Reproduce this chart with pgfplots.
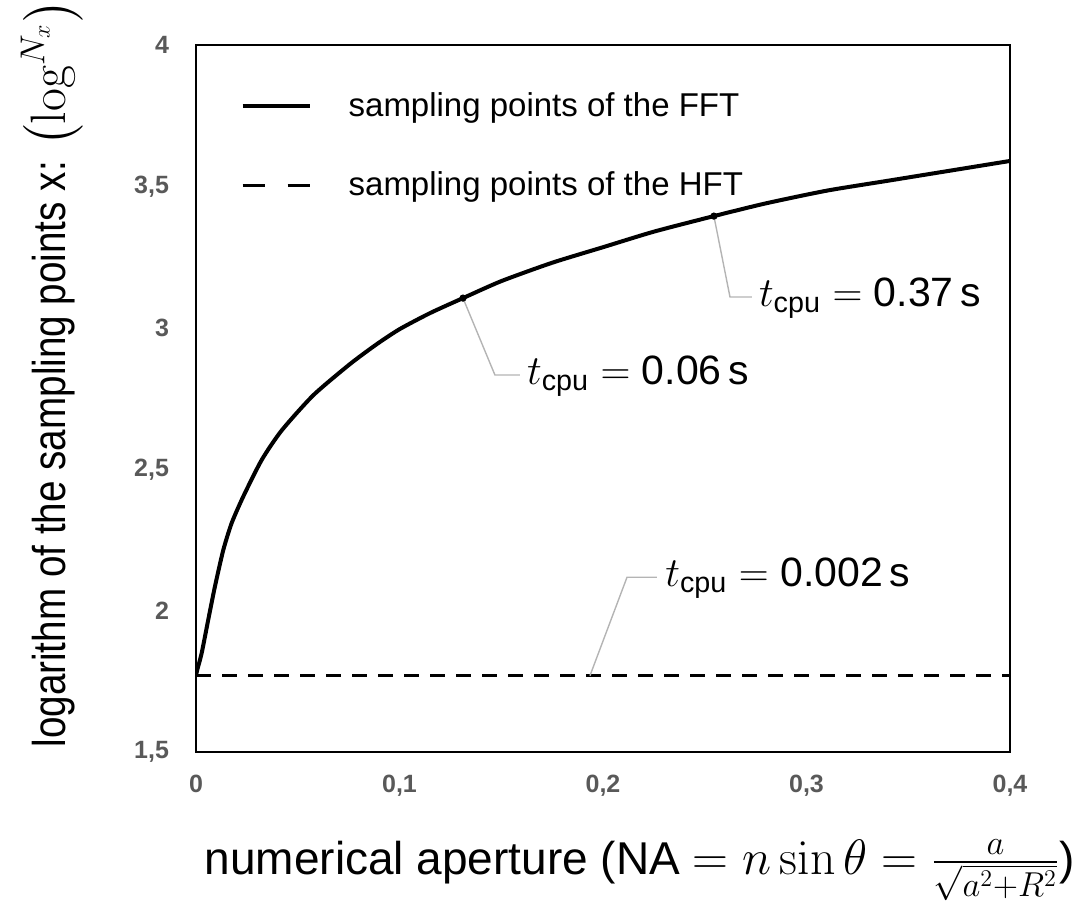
\documentclass[border=0pt]{standalone}
\usepackage{amsmath}
\usepackage{pgfplots}
\pgfplotsset{compat=1.18}
\usepackage[no-math]{fontspec}
\setmainfont{Liberation Sans}
\newfontfamily\condfont{Liberation Sans}[FakeStretch=0.84]
\definecolor{tickgray}{HTML}{595959}
\definecolor{callgray}{HTML}{B4B4B4}
\begin{document}
\begin{tikzpicture}
\begin{axis}[
  scale only axis,
  width=407pt, height=353.5pt,
  xmin=0, xmax=0.4, ymin=1.5, ymax=4,
  axis line style={line width=1pt},
  xtick={0,0.1,0.2,0.3,0.4},
  xticklabels={0,{0,1},{0,2},{0,3},{0,4}},
  ytick={1.5,2,2.5,3,3.5,4},
  yticklabels={{1,5},2,{2,5},3,{3,5},4},
  major tick length=0pt,
  tick label style={font=\bfseries\fontsize{12.5}{14}\selectfont, text=tickgray},
  xticklabel style={yshift=-8pt},
  yticklabel style={xshift=-10pt},
  xlabel={numerical aperture (NA $= n\sin\theta = \frac{a}{\sqrt{a^2+R^2}}$)},
  xlabel style={font=\fontsize{23}{26}\selectfont, at={(rel axis cs:0.545,0)}, anchor=center, yshift=-59pt},
  ylabel={logarithm of the sampling points x: $\left(\log^{N_x}\right)$},
  ylabel style={font=\condfont\fontsize{23}{26}\selectfont, at={(rel axis cs:-0.177,0.535)}, anchor=center},
  legend style={draw=none, fill=none, at={(rel axis cs:0.047,0.944)}, anchor=north west,
    font=\fontsize{16.5}{19}\selectfont, row sep=22pt,
    /tikz/every odd column/.append style={column sep=16.5pt}},
  legend cell align=left,
  legend image code/.code={\draw[#1] (0pt,0pt) -- (33.5pt,0pt);},
]
\addlegendimage{black, line width=2pt}
\addlegendentry{sampling points of the FFT}
\addlegendimage{black, line width=1.5pt, dash pattern=on 11pt off 11.5pt}
\addlegendentry{sampling points of the HFT}
\addplot[black, line width=2pt, smooth, tension=0.4, forget plot] coordinates {
(0,1.77) (0.0006,1.79) (0.0028,1.85) (0.006,1.967) (0.0093,2.085) (0.0134,2.214)
(0.0175,2.309) (0.0232,2.403) (0.0323,2.533) (0.0421,2.637) (0.0577,2.762)
(0.0757,2.872) (0.0888,2.942) (0.1,2.995) (0.115,3.052) (0.1312,3.105) (0.15,3.165)
(0.175,3.23) (0.2,3.285) (0.225,3.34) (0.2545,3.395) (0.28,3.44) (0.31,3.485)
(0.34,3.52) (0.37,3.555) (0.4,3.59)};
\addplot[black, line width=1.5pt, dash pattern=on 7.5pt off 5.5pt, forget plot] coordinates {(0,1.77) (0.4,1.77)};
\addplot[only marks, black, mark=*, mark size=1.6pt, forget plot] coordinates {(0.1312,3.105) (0.2545,3.395)};
\draw[callgray, line width=0.7pt] (axis cs:0.1312,3.105) -- (axis cs:0.1469,2.833) -- (axis cs:0.1592,2.833);
\draw[callgray, line width=0.7pt] (axis cs:0.2545,3.395) -- (axis cs:0.2624,3.109) -- (axis cs:0.2732,3.109);
\draw[callgray, line width=0.7pt] (axis cs:0.1936,1.77) -- (axis cs:0.2118,2.118) -- (axis cs:0.2265,2.118);
\node[anchor=west, font=\fontsize{20.5}{23}\selectfont, inner sep=0pt] at (axis cs:0.1625,2.83) {$t_{\text{cpu}} = \text{0.06\,s}$};
\node[anchor=west, font=\fontsize{20.5}{23}\selectfont, inner sep=0pt] at (axis cs:0.2765,3.105) {$t_{\text{cpu}} = \text{0.37\,s}$};
\node[anchor=west, font=\fontsize{20.5}{23}\selectfont, inner sep=0pt] at (axis cs:0.2305,2.115) {$t_{\text{cpu}} = \text{0.002\,s}$};
\coordinate (bl) at (rel axis cs:0,0);
\end{axis}
\pgfresetboundingbox
\path (bl) ++(-98pt,-82.5pt) rectangle ++(545pt,458.5pt);
\end{tikzpicture}
\end{document}
